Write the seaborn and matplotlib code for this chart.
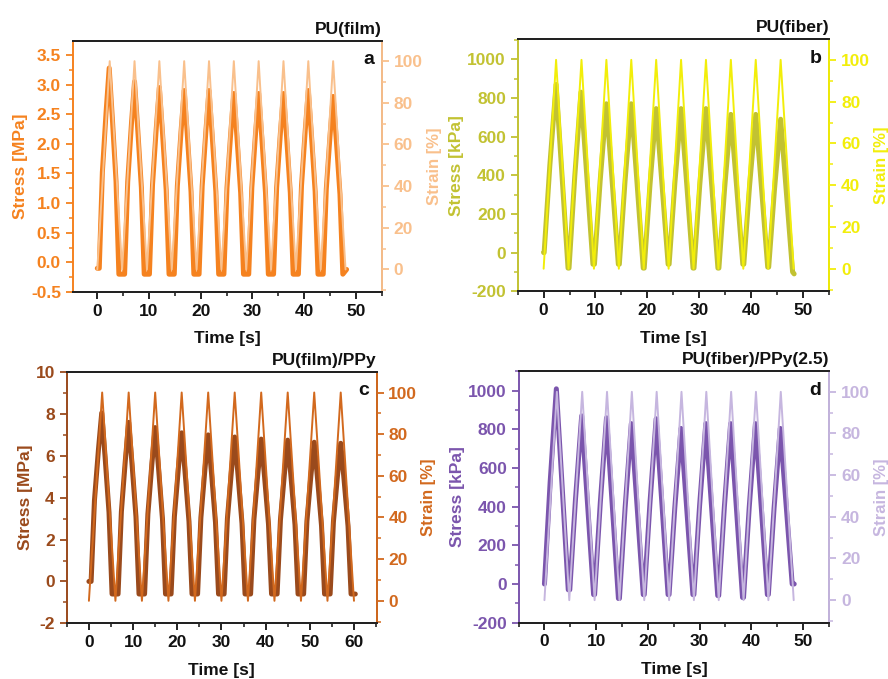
import seaborn as sns
import matplotlib.pyplot as plt
from matplotlib.ticker import MultipleLocator

# ---- data ----
# strain (triangular cycles 0 -> 100 %)
a_strain_t = [0, 2.4, 4.8, 7.2, 9.6, 12.0, 14.4, 16.8, 19.2, 21.6, 24.0,
              26.4, 28.8, 31.2, 33.6, 36.0, 38.4, 40.8, 43.2, 45.6, 48.0]
a_strain = [0, 100, 0, 100, 0, 100, 0, 100, 0, 100, 0,
            100, 0, 100, 0, 100, 0, 100, 0, 100, 0]
b_strain_t = [0, 2.4, 4.8, 7.3, 9.7, 12.1, 14.5, 16.9, 19.3, 21.7, 24.1,
              26.5, 28.9, 31.3, 33.7, 36.1, 38.5, 40.9, 43.3, 45.7, 48.2]
b_strain = [0, 100, 0, 100, 0, 100, 0, 100, 0, 100, 0,
            100, 0, 100, 0, 100, 0, 100, 0, 100, 0]
c_strain_t = [0, 3, 6, 9, 12, 15, 18, 21, 24, 27, 30,
              33, 36, 39, 42, 45, 48, 51, 54, 57, 60]
c_strain = [0, 100, 0, 100, 0, 100, 0, 100, 0, 100, 0,
            100, 0, 100, 0, 100, 0, 100, 0, 100, 0]
d_strain_t = [0, 2.4, 4.8, 7.3, 9.7, 12.1, 14.5, 16.9, 19.3, 21.7, 24.1,
              26.5, 28.9, 31.3, 33.7, 36.1, 38.5, 40.9, 43.3, 45.7, 48.2]
d_strain = [0, 100, 0, 100, 0, 100, 0, 100, 0, 100, 0,
            100, 0, 100, 0, 100, 0, 100, 0, 100, 0]

# stress: peak time / peak value / valley after each peak
a_peak_t = [2.3, 7.2, 12.0, 16.8, 21.6, 26.4, 31.2, 36.0, 40.8, 45.6]
a_stress_peak = [3.28, 3.05, 2.95, 2.9, 2.9, 2.85, 2.85, 2.85, 2.9, 2.8]
a_stress_valley = [-0.2, -0.2, -0.2, -0.2, -0.2, -0.2, -0.2, -0.2, -0.2, -0.2]
a_stress_start = (0.0, -0.1)
a_stress_end = (48.2, -0.12)

b_peak_t = [2.4, 7.2, 12.1, 16.9, 21.7, 26.5, 31.3, 36.1, 40.9, 45.7]
b_stress_peak = [870, 830, 770, 770, 745, 745, 745, 715, 715, 690]
b_stress_valley = [-80, -60, -60, -80, -60, -80, -80, -60, -75, -100]
b_stress_start = (0.0, 0)
b_stress_end = (48.3, -110)

c_peak_t = [2.9, 9.0, 15.0, 21.0, 27.0, 33.0, 39.0, 45.0, 51.0, 57.0]
c_stress_peak = [8.05, 7.6, 7.35, 7.1, 7.0, 6.9, 6.8, 6.75, 6.65, 6.6]
c_stress_valley = [-0.6, -0.6, -0.6, -0.6, -0.6, -0.6, -0.6, -0.6, -0.6, -0.6]
c_stress_start = (0.0, 0.0)
c_stress_end = (60.3, -0.6)

d_peak_t = [2.3, 7.2, 12.0, 16.8, 21.6, 26.4, 31.2, 36.0, 40.8, 45.6]
d_stress_peak = [1010, 870, 860, 830, 855, 805, 830, 830, 830, 805]
d_stress_valley = [-30, -55, -75, -55, -55, -55, -60, -70, -55, 0]
d_stress_start = (0.0, 0)
d_stress_end = (48.3, 0)

# cycle shape (offset in half-periods from peak, fraction of peak height)
film_off = [-0.8, -0.55, -0.25, 0.0, 0.25, 0.55, 0.78]
film_frac = [0.0, 0.48, 0.78, 1.0, 0.76, 0.45, 0.0]
fiber_off = [-0.96, -0.5, 0.0, 0.48, 0.96]
fiber_frac = [0.0, 0.52, 1.0, 0.5, 0.0]


def stress_path(peak_t, peaks, valleys, half, off, frac, start, end):
    ts = [start[0]]
    vs = [start[1]]
    for i in range(len(peak_t)):
        for o, f in zip(off, frac):
            t = peak_t[i] + o * half
            if t <= ts[-1] or t >= end[0]:
                continue
            base = valleys[i - 1] if (o < 0 and i > 0) else valleys[i]
            if o < 0 and i == 0:
                base = start[1]
            ts.append(t)
            vs.append(base + f * (peaks[i] - base))
    ts.append(end[0])
    vs.append(end[1])
    return ts, vs


sns.set_theme(style="ticks")
plt.rcParams['font.family'] = ['Liberation Sans', 'DejaVu Sans']
plt.rcParams['font.weight'] = 'bold'
plt.rcParams['axes.labelweight'] = 'bold'
plt.rcParams['axes.unicode_minus'] = False

fig = plt.figure(figsize=(8.88, 6.79), dpi=100)

panels = [
    dict(pos=[0.0819, 0.570, 0.348, 0.370], title="PU(film)", letter="a",
         path=stress_path(a_peak_t, a_stress_peak, a_stress_valley, 2.4,
                          film_off, film_frac, a_stress_start, a_stress_end),
         st=a_strain_t, sv=a_strain, c1="#F5821F", c2="#F9C08C",
         ylabel="Stress [MPa]", ylim=(-0.5, 3.74), ymaj=0.5, ymin=0.25,
         xlim=(-4.75, 55), xmaj=10),
    dict(pos=[0.583, 0.571, 0.351, 0.371], title="PU(fiber)", letter="b",
         path=stress_path(b_peak_t, b_stress_peak, b_stress_valley, 2.4,
                          fiber_off, fiber_frac, b_stress_start, b_stress_end),
         st=b_strain_t, sv=b_strain, c1="#C2C232", c2="#F2EE0A",
         ylabel="Stress [kPa]", ylim=(-200, 1103), ymaj=200, ymin=100,
         xlim=(-5, 55.1), xmaj=10),
    dict(pos=[0.075, 0.082, 0.349, 0.370], title="PU(film)/PPy", letter="c",
         path=stress_path(c_peak_t, c_stress_peak, c_stress_valley, 3.0,
                          film_off, film_frac, c_stress_start, c_stress_end),
         st=c_strain_t, sv=c_strain, c1="#9A4A1C", c2="#D2691E",
         ylabel="Stress [MPa]", ylim=(-2, 10), ymaj=2, ymin=1,
         xlim=(-5.05, 65.1), xmaj=10),
    dict(pos=[0.584, 0.083, 0.350, 0.370], title="PU(fiber)/PPy(2.5)",
         letter="d",
         path=stress_path(d_peak_t, d_stress_peak, d_stress_valley, 2.4,
                          fiber_off, fiber_frac, d_stress_start, d_stress_end),
         st=d_strain_t, sv=d_strain, c1="#7B55AD", c2="#C6B6DF",
         ylabel="Stress [kPa]", ylim=(-200, 1100), ymaj=200, ymin=100,
         xlim=(-5, 55.1), xmaj=10),
]

for p in panels:
    ax = fig.add_axes(p["pos"])
    ax2 = ax.twinx()
    ts, vs = p["path"]
    sns.lineplot(x=ts, y=vs, ax=ax, color=p["c1"], lw=3.6, sort=False,
                 estimator=None)
    sns.lineplot(x=p["st"], y=p["sv"], ax=ax2, color=p["c2"], lw=1.4,
                 sort=False, estimator=None)

    ax.set_xlim(*p["xlim"])
    ax.set_ylim(*p["ylim"])
    ax2.set_ylim(-10.8, 109.8)
    ax.xaxis.set_major_locator(MultipleLocator(p["xmaj"]))
    ax.xaxis.set_minor_locator(MultipleLocator(p["xmaj"] / 2))
    ax.yaxis.set_major_locator(MultipleLocator(p["ymaj"]))
    ax.yaxis.set_minor_locator(MultipleLocator(p["ymin"]))
    ax2.yaxis.set_major_locator(MultipleLocator(20))
    ax2.yaxis.set_minor_locator(MultipleLocator(10))

    for a in (ax, ax2):
        for s in a.spines.values():
            s.set_linewidth(1.4)
            s.set_color("#222222")
            s.set_visible(True)
    ax.spines["left"].set_color(p["c1"])
    ax2.spines["right"].set_color(p["c2"])
    ax2.spines["left"].set_visible(False)

    ax.tick_params(axis="x", which="major", direction="out", length=5,
                   width=1.3, colors="#111111", labelsize=12.5)
    ax.tick_params(axis="x", which="minor", direction="out", length=3,
                   width=1.1, colors="#111111")
    ax.tick_params(axis="y", which="major", direction="out", length=5,
                   width=1.3, colors=p["c1"], labelsize=12.5)
    ax.tick_params(axis="y", which="minor", direction="out", length=3,
                   width=1.1, colors=p["c1"])
    ax2.tick_params(axis="y", which="major", direction="out", length=5,
                    width=1.3, colors=p["c2"], labelsize=12.5)
    ax2.tick_params(axis="y", which="minor", direction="out", length=3,
                    width=1.1, colors=p["c2"])
    for lab in ax.get_xticklabels() + ax.get_yticklabels() + ax2.get_yticklabels():
        lab.set_fontweight("bold")

    ax.set_xlabel("Time [s]", fontsize=12.5, fontweight="bold",
                  color="#111111", labelpad=9)
    ax.set_ylabel(p["ylabel"], fontsize=12.5, fontweight="bold",
                  color=p["c1"], labelpad=2)
    ax2.set_ylabel("Strain [%]", fontsize=12, fontweight="bold",
                   color=p["c2"], labelpad=3)
    ax.set_title(p["title"], loc="right", fontsize=12.5, fontweight="bold",
                 color="#111111", pad=5)
    ax.text(0.975, 0.925, p["letter"], transform=ax.transAxes, ha="right",
            va="center", fontsize=14, fontweight="bold", color="#111111")

fig.savefig("out.png", dpi=100)
